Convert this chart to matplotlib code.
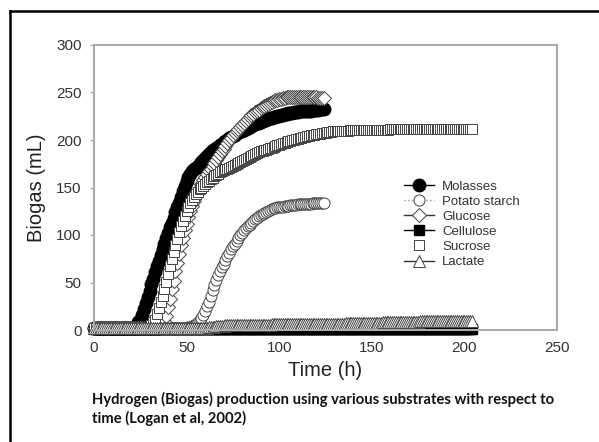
import numpy as np
import matplotlib
matplotlib.use('Agg')
import matplotlib.pyplot as plt
from matplotlib.lines import Line2D

# hourly readings
t_short = np.arange(0, 125)   # 0..124 h
t_long = np.arange(0, 205)    # 0..204 h

molasses = ([2] * 21 +
            [2.5, 3, 5, 8, 11, 16, 22, 28, 35, 41,
             48, 54, 61, 67, 73, 79, 85, 91, 97, 102,
             108, 113, 118, 124, 129, 134, 140, 146, 152, 157,
             161, 164, 167, 169, 171, 173, 175, 177, 179, 181,
             183, 185, 187, 189, 190, 192, 193, 195, 196, 198,
             199, 200, 202, 203, 204, 205, 207, 208, 209, 210,
             211, 212, 213, 214, 215, 216, 217, 218, 218, 219,
             220, 221, 221, 222, 223, 223, 224, 224, 225, 225,
             226, 226, 227, 227, 228, 228, 228, 229, 229, 229,
             230, 230, 230, 231, 231, 231, 231, 232, 232, 232,
             232, 233, 233, 233])

potato = ([2] * 50 +
          [2.5, 3, 3.5, 4, 5, 6, 8, 10, 13, 16,
           20, 25, 30, 36, 42, 47, 53, 58, 62, 66,
           70, 74, 78, 81, 85, 88, 91, 94, 97, 100,
           102, 105, 107, 109, 111, 113, 115, 117, 118, 120,
           121, 122, 123, 124, 125, 126, 127, 128, 128, 129,
           129, 130, 130, 131, 131, 131, 132, 132, 132, 132] +
          [133] * 8 + [134] * 7)

glucose = ([2] * 36 +
           [3, 5, 9, 15, 24, 33, 43, 52, 62, 71,
            80, 89, 97, 105, 112, 119, 125, 131, 136, 141,
            146, 150, 154, 158, 161, 164, 167, 170, 173, 176,
            179, 182, 185, 188, 191, 194, 197, 200, 202, 205,
            207, 209, 212, 214, 216, 218, 220, 222, 224, 226,
            227, 229, 231, 232, 234, 235, 236, 237, 238, 239,
            240, 241, 242, 242, 243, 243, 244, 244, 245, 245] +
           [245] * 15 + [244] * 4)

cellulose = [0.8] * 101 + [1.2] * 104

sucrose = ([2] * 30 +
           [3, 5, 8, 11, 17, 23, 29, 36, 43, 51,
            59, 67, 75, 82, 89, 96, 103, 109, 115, 120,
            125, 130, 134, 137, 140, 143, 145, 148, 150, 152,
            154, 156, 157, 159, 160, 162, 163, 164, 166, 167,
            168, 169, 170, 171, 172, 173, 174, 175, 176, 177,
            178, 179, 180, 181, 182, 183, 184, 185, 186, 187,
            188, 188, 189, 190, 191, 192, 192, 193, 194, 195,
            195, 196, 197, 197, 198, 199, 199, 200, 200, 201,
            201, 202, 202, 203, 203, 204, 204, 205, 205, 205,
            206, 206, 206, 207, 207, 207, 208, 208, 208, 209,
            209, 209, 209, 210, 210, 210, 210, 210, 211, 211] +
           [211] * 20 + [212] * 45)

lactate = ([2] * 61 +
           [2.5, 3, 3, 3.5, 3.5, 4, 4, 4.5, 4.5, 4.5, 5, 5, 5, 5, 5] +
           [5] * 20 + [5.8] * 20 + [6.6] * 20 + [7.4] * 20 + [8.2] * 20 +
           [9] * 15 + [9.8] * 14)

names = ['Molasses', 'Potato starch', 'Glucose', 'Cellulose', 'Sucrose', 'Lactate']

plt.rcParams['font.family'] = ['Liberation Sans', 'DejaVu Sans']

fig = plt.figure(figsize=(5.99, 4.42), dpi=100)
ax = fig.add_axes([94 / 599, 1 - 330 / 442, 463 / 599, 285 / 442])

edge = '#444444'
ax.plot(t_short, molasses, '-o', color='black', mfc='black', mec='black', ms=9,
        lw=1, label=names[0], clip_on=False)
ax.plot(t_short, potato, ':o', color='#999999', mfc='white', mec=edge, mew=0.7,
        ms=8, lw=1, label=names[1], clip_on=False)
ax.plot(t_short, glucose, '-D', color='#333333', mfc='white', mec=edge, mew=0.7,
        ms=7, lw=1, label=names[2], clip_on=False)
ax.plot(t_long, cellulose, '-s', color='black', mfc='black', mec='black',
        ms=7.5, lw=1, label=names[3], clip_on=False)
ax.plot(t_long, sucrose, 's', color=edge, mfc='white', mec=edge, mew=0.7,
        ms=7.5, label=names[4], clip_on=False)
ax.plot(t_long, lactate, '-^', color='#333333', mfc='white', mec=edge, mew=0.7,
        ms=8, lw=1, label=names[5], clip_on=False)

ax.set_xlim(0, 250)
ax.set_ylim(0, 300)
ax.set_xticks([0, 50, 100, 150, 200, 250])
ax.set_yticks([0, 50, 100, 150, 200, 250, 300])
for s in ax.spines.values():
    s.set_color('#aaaaaa')
    s.set_linewidth(1.5)
ax.tick_params(axis='y', length=3, width=1, color='#aaaaaa', pad=6,
               labelsize=11, labelcolor='#333333')
ax.tick_params(axis='x', length=0, pad=8, labelsize=11, labelcolor='#333333')
ax.set_xlabel('Time (h)', fontsize=14.5, color='#222222', labelpad=4)
ax.set_ylabel('Biogas (mL)', fontsize=14.5, color='#222222', labelpad=7)

leg = ax.legend(loc='upper left', bbox_to_anchor=(0.644, 0.565), frameon=False,
                fontsize=9.5, handlelength=2.3, labelspacing=0.21,
                handletextpad=0.6, markerscale=1.0)
for txt in leg.get_texts():
    txt.set_color('#333333')

fig.text(92 / 599, 1 - 409 / 442,
         'Hydrogen (Biogas) production using various substrates with respect to\n'
         'time (Logan et al, 2002)',
         fontsize=10.6, fontweight='bold', family='Lato', color='#111111',
         va='center', ha='left', linespacing=1.25)

# page border (top and left)
fig.add_artist(Line2D([10 / 599, 1], [1 - 11 / 442, 1 - 11 / 442],
                      transform=fig.transFigure, color='black', lw=1.8))
fig.add_artist(Line2D([10 / 599, 10 / 599], [0, 1 - 11 / 442],
                      transform=fig.transFigure, color='black', lw=1.8))

fig.savefig('out.png', dpi=100)
